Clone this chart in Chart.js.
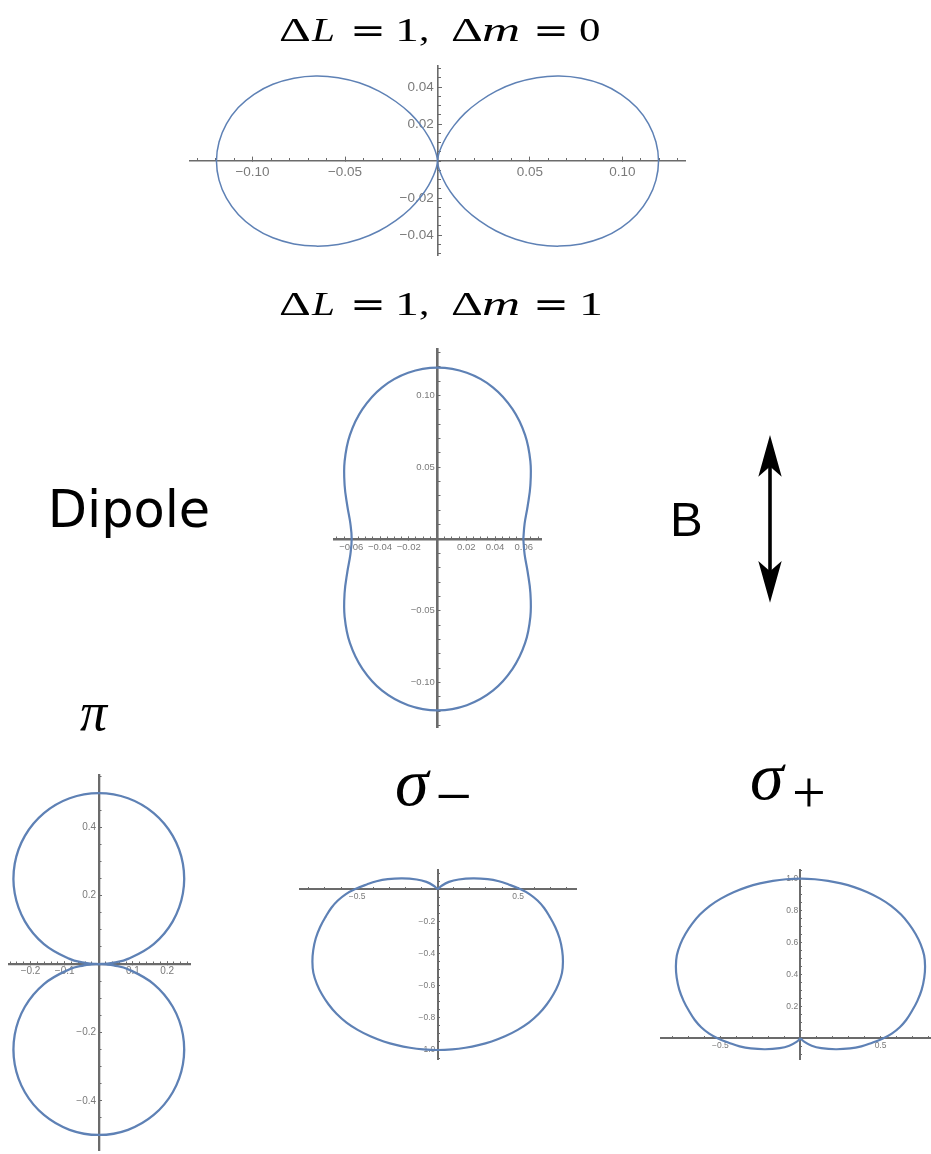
<!DOCTYPE html>
<html>
<head>
<meta charset="utf-8">
<title>Dipole radiation patterns</title>
<script src="https://cdn.jsdelivr.net/npm/chart.js@4.4.1/dist/chart.umd.min.js"></script>
<style>
  html, body { margin: 0; padding: 0; background: #fff; }
  body { width: 931px; height: 1154px; position: relative; overflow: hidden; }
  canvas.fig { position: absolute; }
  .tok { position: absolute; line-height: 1; white-space: nowrap; color: #000; transform-origin: 0 0; }
  svg.arrow { position: absolute; }
</style>
</head>
<body>

<canvas id="cvDm0" class="fig"></canvas>
<canvas id="cvDm1" class="fig"></canvas>
<canvas id="cvPi" class="fig"></canvas>
<canvas id="cvSigM" class="fig"></canvas>
<canvas id="cvSigP" class="fig"></canvas>

<svg class="arrow" style="left:750px;top:430px" width="40" height="180">
  <line x1="20" y1="30" x2="20" y2="148" stroke="#000" stroke-width="3.6"/>
  <path d="M20 5 L31.7 46.7 L20 36.5 L8.3 46.7 Z" fill="#000"/>
  <path d="M20 172.7 L31.7 131 L20 141.2 L8.3 131 Z" fill="#000"/>
</svg>

<script>
// ---- curve data (x, y in plot units) ----

// ΔL = 1, Δm = 0 : two horizontal lobes, each traced from the origin and back
const dm0RightX = [0, 0.0001, 0.0006, 0.0021, 0.0048, 0.0090, 0.0149, 0.0226, 0.0317, 0.0423, 0.0537, 0.0657, 0.0776, 0.0890, 0.0992, 0.1077, 0.1141, 0.1181, 0.1195,
                   0.1181, 0.1141, 0.1077, 0.0992, 0.0890, 0.0776, 0.0657, 0.0537, 0.0423, 0.0317, 0.0226, 0.0149, 0.0090, 0.0048, 0.0021, 0.0006, 0.0001, 0];
const dm0LeftX  = [0, -0.0001, -0.0006, -0.0021, -0.0048, -0.0090, -0.0149, -0.0226, -0.0317, -0.0423, -0.0537, -0.0657, -0.0776, -0.0890, -0.0992, -0.1077, -0.1141, -0.1181, -0.1195,
                   -0.1181, -0.1141, -0.1077, -0.0992, -0.0890, -0.0776, -0.0657, -0.0537, -0.0423, -0.0317, -0.0226, -0.0149, -0.0090, -0.0048, -0.0021, -0.0006, -0.0001, 0];
const dm0LobeY  = [0, 0.0009, 0.0035, 0.0077, 0.0131, 0.0193, 0.0259, 0.0322, 0.0378, 0.0423, 0.0451, 0.0460, 0.0448, 0.0415, 0.0361, 0.0289, 0.0201, 0.0103, 0,
                   -0.0103, -0.0201, -0.0289, -0.0361, -0.0415, -0.0448, -0.0460, -0.0451, -0.0423, -0.0378, -0.0322, -0.0259, -0.0193, -0.0131, -0.0077, -0.0035, -0.0009, 0];

// ΔL = 1, Δm = 1 : peanut along B, traced from the right waist
const dm1X = [0.0597, 0.0606, 0.0627, 0.0646, 0.0646, 0.0609, 0.0522, 0.0385, 0.0204, 0, -0.0204, -0.0385, -0.0522, -0.0609, -0.0646, -0.0646, -0.0627, -0.0606,
              -0.0597, -0.0606, -0.0627, -0.0646, -0.0646, -0.0609, -0.0522, -0.0385, -0.0204, 0, 0.0204, 0.0385, 0.0522, 0.0609, 0.0646, 0.0646, 0.0627, 0.0606, 0.0597];
const dm1Y = [0, -0.0107, -0.0228, -0.0373, -0.0542, -0.0726, -0.0905, -0.1057, -0.1158, -0.1194, -0.1158, -0.1057, -0.0905, -0.0726, -0.0542, -0.0373, -0.0228, -0.0107,
              0, 0.0107, 0.0228, 0.0373, 0.0542, 0.0726, 0.0905, 0.1057, 0.1158, 0.1194, 0.1158, 0.1057, 0.0905, 0.0726, 0.0542, 0.0373, 0.0228, 0.0107, 0];

// π : two circles touching at the origin
const piX      = [0, 0.0218, 0.0434, 0.0855, 0.1607, 0.2165, 0.2462, 0.2462, 0.2165, 0.1607, 0.0855, 0,
                  -0.0855, -0.1607, -0.2165, -0.2462, -0.2462, -0.2165, -0.1607, -0.0855, -0.0434, -0.0218, 0];
const piUpperY = [0, 0.0010, 0.0038, 0.0151, 0.0585, 0.125, 0.2066, 0.2934, 0.375, 0.4415, 0.4849, 0.5,
                  0.4849, 0.4415, 0.375, 0.2934, 0.2066, 0.125, 0.0585, 0.0151, 0.0038, 0.0010, 0];
const piLowerY = [0, -0.0010, -0.0038, -0.0151, -0.0585, -0.125, -0.2066, -0.2934, -0.375, -0.4415, -0.4849, -0.5,
                  -0.4849, -0.4415, -0.375, -0.2934, -0.2066, -0.125, -0.0585, -0.0151, -0.0038, -0.0010, 0];

// σ− and σ+ : main lobe with small bumps either side of the origin
const sigX = [0, 0.025, 0.07, 0.13, 0.22, 0.31, 0.38, 0.44, 0.515, 0.57, 0.62, 0.66, 0.695, 0.73, 0.757, 0.773, 0.778, 0.772, 0.75, 0.718, 0.677, 0.628, 0.566, 0.497, 0.418, 0.335, 0.253, 0.172, 0.09, 0,
              -0.09, -0.172, -0.253, -0.335, -0.418, -0.497, -0.566, -0.628, -0.677, -0.718, -0.75, -0.772, -0.778, -0.773, -0.757, -0.73, -0.695, -0.66, -0.62, -0.57, -0.515, -0.44, -0.38, -0.31, -0.22, -0.13, -0.07, -0.025, 0];
const sigMinusY = [0, 0.022, 0.046, 0.061, 0.068, 0.063, 0.050, 0.030, 0, -0.03, -0.07, -0.115, -0.17, -0.235, -0.305, -0.38, -0.45, -0.52, -0.59, -0.655, -0.717, -0.775, -0.83, -0.875, -0.915, -0.947, -0.97, -0.986, -0.996, -1.0,
                   -0.996, -0.986, -0.97, -0.947, -0.915, -0.875, -0.83, -0.775, -0.717, -0.655, -0.59, -0.52, -0.45, -0.38, -0.305, -0.235, -0.17, -0.115, -0.07, -0.03, 0, 0.030, 0.050, 0.063, 0.068, 0.061, 0.046, 0.022, 0];
const sigPlusY  = [0, -0.022, -0.046, -0.061, -0.068, -0.063, -0.050, -0.030, 0, 0.03, 0.07, 0.115, 0.17, 0.235, 0.305, 0.38, 0.45, 0.52, 0.59, 0.655, 0.717, 0.775, 0.83, 0.875, 0.915, 0.947, 0.97, 0.986, 0.996, 1.0,
                   0.996, 0.986, 0.97, 0.947, 0.915, 0.875, 0.83, 0.775, 0.717, 0.655, 0.59, 0.52, 0.45, 0.38, 0.305, 0.235, 0.17, 0.115, 0.07, 0.03, 0, -0.030, -0.050, -0.063, -0.068, -0.061, -0.046, -0.022, 0];

// ---- labelled ticks ----
const dm0TicksX = [-0.10, -0.05, 0.05, 0.10];
const dm0TicksY = [-0.04, -0.02, 0.02, 0.04];
const dm1TicksX = [-0.06, -0.04, -0.02, 0.02, 0.04, 0.06];
const dm1TicksY = [-0.10, -0.05, 0.05, 0.10];
const piTicksX  = [-0.2, -0.1, 0.1, 0.2];
const piTicksY  = [-0.4, -0.2, 0.2, 0.4];
const sigTicksX = [-0.5, 0.5];
const sigMinusTicksY = [-1.0, -0.8, -0.6, -0.4, -0.2];
const sigPlusTicksY  = [0.2, 0.4, 0.6, 0.8, 1.0];

// ---- styling ----
const CURVE = '#5e81b5';
const AXIS = '#6b6b6b';
const TICK_TEXT = '#7a7a7a';
const PAD = 30;

function pts(xs, ys) { return xs.map((x, i) => ({ x, y: ys[i] })); }

function minorTicks(min, max, step) {
  const out = [];
  for (let i = Math.ceil(min / step - 1e-9); i <= Math.floor(max / step + 1e-9); i++) out.push({ value: +(i * step).toFixed(6) });
  return out;
}

function fmt(v, digits) { return v.toFixed(digits).replace('-', '\u2212'); }

function curve(xs, ys, width) {
  return { data: pts(xs, ys), showLine: true, borderColor: CURVE, borderWidth: width,
           pointRadius: 0, pointHoverRadius: 0, tension: 0.4, fill: false };
}

function scalesFor(f) {
  const font = { family: 'Liberation Sans', size: f.font };
  const base = { type: 'linear', bounds: 'data' };
  // negative tick length puts the marks on the inner side, Mathematica style
  const grid = len => ({ drawOnChartArea: false, drawTicks: true, tickLength: -len, tickColor: AXIS, tickWidth: 1 });
  return {
    x: { ...base, axis: 'x', position: { y: 0 }, min: f.x[0], max: f.x[1],
         afterBuildTicks: s => { s.ticks = f.ticksX.map(v => ({ value: v })); },
         ticks: { autoSkip: false, maxRotation: 0, color: TICK_TEXT, font, padding: f.padX,
                  callback: v => fmt(v, f.digits) },
         grid: grid(f.majorLen),
         border: { display: true, color: AXIS, width: f.axisWidth } },
    xm: { ...base, axis: 'x', position: { y: 0 }, min: f.x[0], max: f.x[1],
          afterBuildTicks: s => { s.ticks = minorTicks(f.x[0], f.x[1], f.minorX); },
          ticks: { display: false }, grid: grid(f.minorLen), border: { display: false } },
    y: { ...base, axis: 'y', position: { x: 0 }, min: f.y[0], max: f.y[1],
         afterBuildTicks: s => { s.ticks = f.ticksY.map(v => ({ value: v })); },
         ticks: { autoSkip: false, color: TICK_TEXT, font, padding: 0,
                  callback: v => fmt(v, f.digits) + ' ' },
         grid: grid(f.majorLen),
         border: { display: true, color: AXIS, width: f.axisWidth } },
    ym: { ...base, axis: 'y', position: { x: 0 }, min: f.y[0], max: f.y[1],
          afterBuildTicks: s => { s.ticks = minorTicks(f.y[0], f.y[1], f.minorY); },
          ticks: { display: false }, grid: grid(f.minorLen), border: { display: false } }
  };
}

function drawFigure(canvasId, f, datasets) {
  const cv = document.getElementById(canvasId);
  const left = Math.round(f.ox + f.x[0] * f.k) - PAD;
  const top = Math.round(f.oy - f.y[1] * f.k) - PAD;
  cv.width = Math.round((f.x[1] - f.x[0]) * f.k) + 2 * PAD;
  cv.height = Math.round((f.y[1] - f.y[0]) * f.k) + 2 * PAD;
  cv.style.left = left + 'px';
  cv.style.top = top + 'px';
  return new Chart(cv.getContext('2d'), {
    type: 'scatter',
    data: { datasets },
    options: {
      responsive: false, animation: false, devicePixelRatio: 1,
      layout: { padding: PAD },
      plugins: { legend: { display: false }, tooltip: { enabled: false } },
      events: [],
      scales: scalesFor(f)
    }
  });
}

drawFigure('cvDm0', {
  ox: 437.5, oy: 161, k: 1850, x: [-0.1338, 0.1338], y: [-0.0508, 0.0514],
  ticksX: dm0TicksX, ticksY: dm0TicksY, minorX: 0.01, minorY: 0.005, digits: 2,
  font: 13.5, padX: 8.5, axisWidth: 1.6, majorLen: 5, minorLen: 3
}, [curve(dm0RightX, dm0LobeY, 1.5), curve(dm0LeftX, dm0LobeY, 1.5)]);

drawFigure('cvDm1', {
  ox: 437.3, oy: 539.3, k: 1435, x: [-0.072, 0.072], y: [-0.131, 0.1324],
  ticksX: dm1TicksX, ticksY: dm1TicksY, minorX: 0.005, minorY: 0.01, digits: 2,
  font: 9.5, padX: 6.5, axisWidth: 2.6, majorLen: 4, minorLen: 2.5
}, [curve(dm1X, dm1Y, 2.2)]);

drawFigure('cvPi', {
  ox: 99.3, oy: 964, k: 342, x: [-0.263, 0.267], y: [-0.544, 0.553],
  ticksX: piTicksX, ticksY: piTicksY, minorX: 0.02, minorY: 0.05, digits: 1,
  font: 10, padX: 5.5, axisWidth: 2.3, majorLen: 4, minorLen: 2.5
}, [curve(piX, piUpperY, 2.3), curve(piX, piLowerY, 2.3)]);

drawFigure('cvSigM', {
  ox: 437.7, oy: 889.3, k: 161, x: [-0.855, 0.859], y: [-1.056, 0.12],
  ticksX: sigTicksX, ticksY: sigMinusTicksY, minorX: 0.1, minorY: 0.05, digits: 1,
  font: 8.5, padX: 5, axisWidth: 2, majorLen: 3, minorLen: 2
}, [curve(sigX, sigMinusY, 2.2)]);

drawFigure('cvSigP', {
  ox: 800, oy: 1038.7, k: 160, x: [-0.871, 0.84], y: [-0.129, 1.054],
  ticksX: sigTicksX, ticksY: sigPlusTicksY, minorX: 0.1, minorY: 0.05, digits: 1,
  font: 8.5, padX: 5, axisWidth: 2, majorLen: 3, minorLen: 2
}, [curve(sigX, sigPlusY, 2.2)]);

// ---- titles and labels ----
const BASE = { 'Liberation Serif': 0.8375, 'DejaVu Serif': 0.846, 'DejaVu Sans': 0.846, 'Liberation Sans': 0.8465 };

function putText(text, left, baseline, size, family, italic, sx) {
  const el = document.createElement('span');
  el.className = 'tok';
  el.textContent = text;
  el.style.fontFamily = `"${family}"`;
  el.style.fontSize = size + 'px';
  el.style.left = left + 'px';
  el.style.top = (baseline - BASE[family] * size) + 'px';
  if (italic) el.style.fontStyle = 'italic';
  if (sx) el.style.transform = `scaleX(${sx})`;
  document.body.appendChild(el);
}

function title(baseline, last) {
  const S = 33, SERIF = 'Liberation Serif';
  putText('Δ', 279, baseline, S, SERIF, false, 1.5);
  putText('L', 312, baseline, S, SERIF, true, 1.25);
  putText('=', 350, baseline, S, 'DejaVu Serif', false, 1.3);
  putText('1', 394.7, baseline, S, SERIF, false, 1.45);
  putText(',', 418.5, baseline, S, SERIF, false, 1.25);
  putText('Δ', 451, baseline, S, SERIF, false, 1.5);
  putText('m', 482, baseline, S, SERIF, true, 1.6);
  putText('=', 533, baseline, S, 'DejaVu Serif', false, 1.3);
  putText(last, 578.5, baseline, S, SERIF, false, last === '1' ? 1.45 : 1.3);
}

title(41.7, '0');
title(315.5, '1');

putText('Dipole', 47.7, 527.3, 51, 'DejaVu Sans', false);
putText('B', 670, 536.7, 49, 'Liberation Sans', false);

putText('π', 80, 730, 54, 'Liberation Serif', true);
putText('σ', 395, 805, 68, 'Liberation Serif', true);
putText('\u2212', 435.6, 818.6, 65, 'Liberation Serif', false);
putText('σ', 750, 799, 68, 'Liberation Serif', true);
putText('+', 792, 812, 60, 'Liberation Serif', false);
</script>
</body>
</html>
